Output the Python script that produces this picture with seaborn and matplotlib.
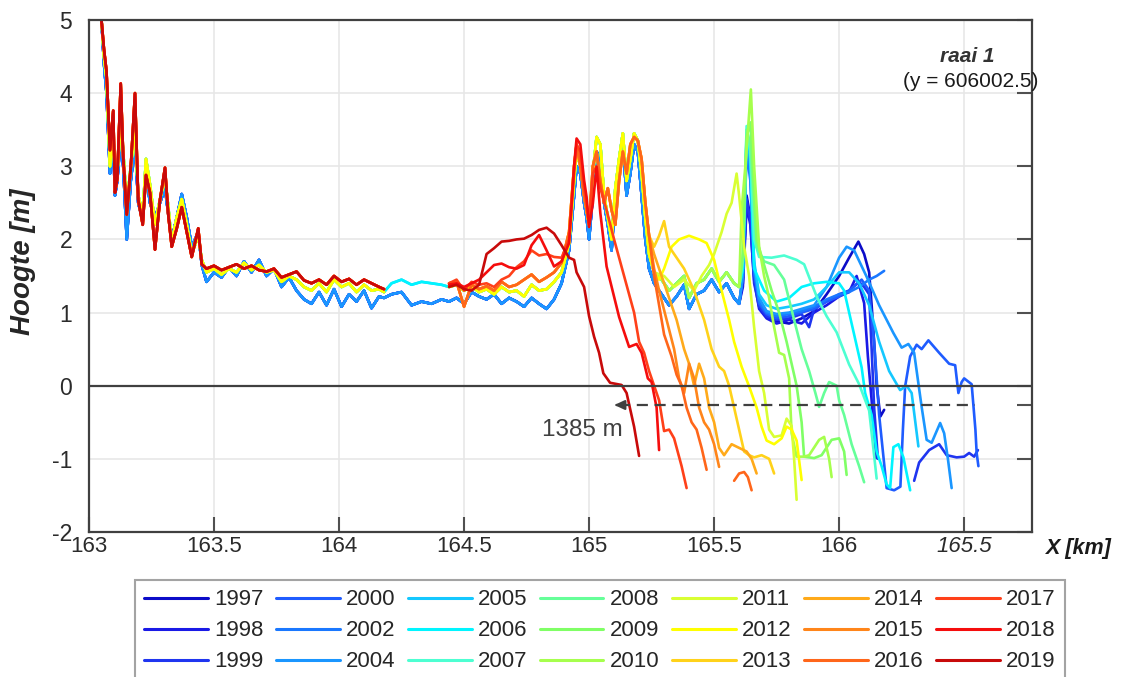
import matplotlib
matplotlib.use("Agg")
import matplotlib.pyplot as plt
import pandas as pd
import seaborn as sns
from matplotlib.lines import Line2D

# ---------------- data ----------------
years = ["1997", "1998", "1999", "2000", "2002", "2004", "2005", "2006", "2007",
         "2008", "2009", "2010", "2011", "2012", "2013", "2014", "2015", "2016",
         "2017", "2018", "2019"]

x_ticks = [163, 163.5, 164, 164.5, 165, 165.5, 166, 166.5]
x_tick_labels = ["163", "163.5", "164", "164.5", "165", "165.5", "166", "165.5"]
y_ticks = [-2, -1, 0, 1, 2, 3, 4, 5]

# western beach / dune foot (shared survey stretch)
x_west = [163.05, 163.06, 163.07, 163.084, 163.097, 163.104, 163.113, 163.127, 163.137, 163.151,
          163.167, 163.184, 163.197, 163.215, 163.228, 163.244, 163.264, 163.284, 163.304, 163.317,
          163.331, 163.351, 163.371, 163.391, 163.411, 163.437, 163.451, 163.47, 163.50, 163.53,
          163.56, 163.59, 163.62, 163.65, 163.68, 163.71, 163.74, 163.77, 163.80, 163.83,
          163.86, 163.89, 163.92, 163.95, 163.98, 164.01, 164.04, 164.07, 164.10, 164.13,
          164.16, 164.18]
z_west_early = [5.00, 4.40, 4.00, 2.90, 3.30, 2.60, 2.80, 3.40, 3.00, 2.00,
                2.80, 3.30, 2.50, 2.25, 2.90, 2.50, 2.30, 2.50, 2.70, 2.35,
                2.00, 2.30, 2.62, 2.30, 1.90, 2.10, 1.65, 1.42, 1.55, 1.48,
                1.62, 1.50, 1.70, 1.55, 1.72, 1.50, 1.60, 1.35, 1.48, 1.30,
                1.18, 1.12, 1.28, 1.10, 1.32, 1.08, 1.25, 1.15, 1.30, 1.06,
                1.22, 1.20]
z_west_mid = [5.00, 4.50, 4.20, 3.00, 3.50, 2.75, 2.90, 3.60, 3.20, 2.45,
              3.00, 3.50, 2.60, 2.35, 3.10, 2.75, 2.20, 2.55, 2.85, 2.45,
              1.95, 2.30, 2.55, 2.20, 1.80, 2.05, 1.72, 1.55, 1.60, 1.52,
              1.60, 1.55, 1.68, 1.58, 1.65, 1.55, 1.58, 1.42, 1.50, 1.45,
              1.35, 1.30, 1.40, 1.28, 1.45, 1.35, 1.40, 1.28, 1.38, 1.30,
              1.32, 1.28]
z_west_late = [5.00, 4.60, 4.30, 3.22, 3.76, 2.64, 2.83, 4.13, 3.12, 2.34,
               2.98, 4.00, 2.54, 2.20, 2.88, 2.64, 1.86, 2.54, 2.98, 2.34,
               1.90, 2.15, 2.44, 2.10, 1.76, 2.15, 1.66, 1.60, 1.64, 1.58,
               1.62, 1.66, 1.60, 1.64, 1.58, 1.56, 1.60, 1.48, 1.52, 1.56,
               1.44, 1.40, 1.45, 1.38, 1.50, 1.42, 1.46, 1.38, 1.45, 1.40,
               1.35, 1.32]

# stretch only measured in the early years
x_gap = [164.21, 164.25, 164.29, 164.33, 164.37, 164.41]
z_gap_early = [1.25, 1.28, 1.10, 1.15, 1.12, 1.18]
z_gap_cyan = [1.40, 1.45, 1.38, 1.42, 1.40, 1.38]

# back-dune plain
x_bar = [164.44, 164.47, 164.50, 164.53, 164.56, 164.59, 164.62, 164.65, 164.68, 164.71,
         164.74, 164.77, 164.80, 164.83, 164.86, 164.89, 164.92]
z_bar_early = [1.15, 1.20, 1.12, 1.28, 1.22, 1.18, 1.25, 1.12, 1.20, 1.15, 1.08, 1.20, 1.12, 1.05, 1.18, 1.40, 1.85]
z_bar_mid = [1.35, 1.38, 1.30, 1.36, 1.28, 1.32, 1.25, 1.35, 1.28, 1.30, 1.22, 1.38, 1.30, 1.32, 1.42, 1.55, 1.95]
z_bar_late = [1.40, 1.42, 1.08, 1.38, 1.32, 1.36, 1.30, 1.42, 1.35, 1.38, 1.45, 1.52, 1.42, 1.48, 1.55, 1.68, 2.10]
z_bar_2017 = [1.40, 1.45, 1.30, 1.42, 1.38, 1.40, 1.35, 1.45, 1.50, 1.62, 1.70, 1.85, 1.78, 1.80, 1.76, 1.75, 2.00]
z_bar_2018 = [1.38, 1.40, 1.35, 1.40, 1.45, 1.55, 1.65, 1.67, 1.62, 1.60, 1.65, 1.92, 2.06, 1.85, 1.63, 1.70, 1.95]
z_bar_2019 = [1.35, 1.38, 1.32, 1.30, 1.38, 1.80, 1.88, 1.97, 1.98, 2.00, 2.01, 2.06, 2.13, 2.16, 2.08, 1.92, 1.75]

# fore dune
x_dune = [164.94, 164.95, 164.965, 164.98, 164.99, 165.00, 165.015, 165.03, 165.045, 165.06, 165.075,
          165.09, 165.105, 165.12, 165.135, 165.15, 165.165, 165.18, 165.195, 165.21, 165.225, 165.24]
z_dune_early = [2.60, 3.00, 2.90, 2.50, 2.30, 2.00, 2.60, 3.20, 3.10, 2.50, 2.20,
                1.85, 2.60, 3.00, 3.30, 2.60, 2.90, 3.30, 3.20, 2.60, 2.00, 1.60]
z_dune_mid = [2.80, 3.20, 3.00, 2.70, 2.40, 2.20, 2.90, 3.40, 3.30, 2.60, 2.30,
              2.00, 2.70, 3.10, 3.45, 2.80, 3.10, 3.45, 3.35, 2.90, 2.30, 1.80]
z_dune_late = [3.00, 3.30, 3.00, 2.60, 2.40, 2.20, 3.00, 3.20, 2.80, 2.50, 2.70,
               2.40, 2.20, 2.80, 3.20, 2.90, 3.30, 3.40, 3.35, 3.10, 2.50, 2.05]

# plain behind the old beach
x_band = [165.26, 165.29, 165.32, 165.35, 165.38, 165.40, 165.43, 165.46, 165.49, 165.52, 165.55, 165.58, 165.60]
z_band_early = [1.40, 1.25, 1.10, 1.22, 1.38, 1.05, 1.25, 1.30, 1.45, 1.28, 1.40, 1.20, 1.12]
z_band_mid = [1.55, 1.45, 1.30, 1.40, 1.50, 1.20, 1.40, 1.45, 1.60, 1.42, 1.55, 1.40, 1.35]

# year specific seaward ends
x_1997 = [165.615, 165.63, 165.645, 165.66, 165.68, 165.71, 165.75, 165.80, 165.85, 165.90, 165.95,
          166.00, 166.04, 166.077, 166.10, 166.12, 166.13, 166.14, 166.15, 166.165, 166.18]
z_1997 = [1.40, 2.60, 2.30, 1.50, 1.10, 0.95, 0.88, 0.85, 0.92, 1.02, 1.25,
          1.50, 1.75, 1.97, 1.80, 1.55, 1.10, 0.60, 0.00, -0.42, -0.33]
x_1998 = [165.615, 165.63, 165.645, 165.66, 165.68, 165.71, 165.75, 165.80, 165.85, 165.90, 165.95,
          166.00, 166.04, 166.07, 166.10, 166.115, 166.13, 166.148]
z_1998 = [1.35, 2.45, 2.20, 1.45, 1.05, 0.92, 0.85, 0.90, 0.85, 1.00, 1.10,
          1.22, 1.28, 1.50, 1.13, 0.40, -0.20, -0.99]
x_1999 = [165.615, 165.63, 165.645, 165.66, 165.68, 165.71, 165.75, 165.80, 165.85, 165.88, 165.90,
          165.95, 166.00, 166.04, 166.08, 166.10, 166.12, 166.13, 166.14, 166.155]
z_1999 = [1.45, 2.55, 2.25, 1.40, 1.08, 0.95, 0.90, 0.92, 0.98, 0.80, 1.05,
          1.15, 1.25, 1.30, 1.42, 1.35, 1.25, 0.50, -0.30, -1.00]
x_1999b = [166.30, 166.32, 166.36, 166.40, 166.43, 166.47, 166.50, 166.52, 166.54, 166.555]
z_1999b = [-1.30, -1.05, -0.88, -0.80, -0.95, -0.98, -0.97, -0.92, -0.97, -0.88]
x_2000 = [165.615, 165.63, 165.645, 165.66, 165.68, 165.71, 165.75, 165.80, 165.85, 165.90, 165.95,
          166.00, 166.04, 166.09, 166.12, 166.14, 166.16, 166.19, 166.22, 166.245, 166.255, 166.264,
          166.284, 166.31, 166.33, 166.357, 166.40, 166.44, 166.464, 166.477, 166.49, 166.50, 166.53,
          166.545, 166.55, 166.557]
z_2000 = [1.50, 3.30, 2.90, 1.60, 1.12, 0.98, 0.92, 0.95, 1.00, 1.05, 1.15,
          1.22, 1.30, 1.45, 1.30, 0.60, -0.40, -1.40, -1.43, -1.38, -0.60, -0.01,
          0.40, 0.56, 0.50, 0.62, 0.45, 0.30, 0.28, -0.10, 0.05, 0.10, 0.02,
          -0.60, -0.92, -1.10]
x_2002 = [165.615, 165.63, 165.645, 165.66, 165.68, 165.71, 165.75, 165.80, 165.85, 165.90, 165.95,
          166.00, 166.04, 166.08, 166.12, 166.15, 166.18]
z_2002 = [1.50, 3.20, 2.80, 1.55, 1.15, 1.00, 0.95, 0.98, 1.02, 1.08, 1.18,
          1.25, 1.28, 1.35, 1.45, 1.50, 1.57]
x_2004 = [165.615, 165.63, 165.645, 165.66, 165.68, 165.71, 165.75, 165.80, 165.85, 165.90, 165.95,
          166.00, 166.03, 166.06, 166.11, 166.16, 166.217, 166.25, 166.277, 166.30, 166.31, 166.33,
          166.35, 166.37, 166.404, 166.42, 166.435, 166.45]
z_2004 = [1.50, 3.35, 3.00, 1.65, 1.20, 1.02, 0.98, 1.00, 1.05, 1.10, 1.35,
          1.75, 1.90, 1.85, 1.49, 1.10, 0.72, 0.52, 0.57, 0.45, 0.20, -0.29,
          -0.74, -0.78, -0.51, -0.65, -1.00, -1.40]
x_2005 = [165.615, 165.63, 165.645, 165.66, 165.68, 165.71, 165.75, 165.80, 165.85, 165.90, 165.95,
          166.00, 166.04, 166.08, 166.12, 166.16, 166.20, 166.244, 166.27, 166.29, 166.317]
z_2005 = [1.60, 3.40, 3.10, 1.70, 1.25, 1.10, 1.05, 1.08, 1.12, 1.18, 1.35,
          1.55, 1.55, 1.40, 1.10, 0.60, 0.20, -0.06, 0.00, -0.10, -0.83]
x_2006 = [165.615, 165.63, 165.645, 165.66, 165.70, 165.75, 165.80, 165.85, 165.90, 165.95, 166.00,
          166.02, 166.06, 166.09, 166.104, 166.13, 166.15, 166.17, 166.19, 166.204, 166.217, 166.237,
          166.257, 166.284]
z_2006 = [1.60, 3.45, 3.20, 1.60, 1.30, 1.15, 1.20, 1.35, 1.40, 1.42, 1.40,
          1.30, 0.70, 0.25, -0.10, -0.40, -0.90, -1.10, -1.35, -1.40, -0.84, -0.80,
          -0.98, -1.43]
x_2007 = [165.615, 165.63, 165.645, 165.66, 165.68, 165.73, 165.78, 165.83, 165.86, 165.91, 165.95,
          165.99, 166.04, 166.08, 166.12, 166.135, 166.15]
z_2007 = [1.70, 3.55, 3.20, 2.00, 1.76, 1.75, 1.78, 1.72, 1.66, 1.22, 0.95,
          0.73, 0.29, 0.02, -0.34, -0.80, -1.27]
x_2008 = [165.615, 165.63, 165.645, 165.67, 165.70, 165.74, 165.78, 165.82, 165.85, 165.88,
          165.905, 165.92, 165.94, 165.96, 165.99, 166.00, 166.02, 166.05, 166.08, 166.10]
z_2008 = [1.75, 3.50, 3.30, 1.90, 1.70, 1.65, 1.45, 0.90, 0.50, 0.20,
          -0.10, -0.29, -0.10, 0.05, 0.00, -0.20, -0.40, -0.80, -1.10, -1.32]
x_2009 = [165.615, 165.63, 165.645, 165.67, 165.70, 165.73, 165.76, 165.79, 165.81, 165.83,
          165.85, 165.86, 165.90, 165.93, 165.97, 166.00, 166.02, 166.03]
z_2009 = [1.80, 3.40, 3.60, 2.00, 1.65, 1.30, 1.00, 0.60, 0.30, 0.00,
          -0.50, -0.97, -0.99, -0.95, -0.74, -0.72, -0.90, -1.22]
x_2010 = [165.61, 165.625, 165.647, 165.66, 165.68, 165.70, 165.72, 165.74, 165.76, 165.78,
          165.80, 165.81, 165.83, 165.86, 165.88, 165.92, 165.94, 165.96, 165.97]
z_2010 = [2.40, 3.00, 4.05, 3.00, 1.90, 1.50, 1.20, 0.80, 0.45, 0.42,
          0.10, -0.65, -0.97, -0.97, -0.95, -0.74, -0.70, -1.00, -1.25]
x_2011 = [165.26, 165.30, 165.34, 165.38, 165.42, 165.45, 165.48, 165.50, 165.53, 165.55,
          165.57, 165.59, 165.60, 165.62, 165.64, 165.66, 165.68, 165.70, 165.72, 165.74,
          165.77, 165.79, 165.81, 165.82, 165.83]
z_2011 = [1.55, 1.50, 1.35, 1.45, 1.30, 1.50, 1.65, 1.80, 2.10, 2.35,
          2.50, 2.90, 2.60, 1.90, 1.50, 0.80, 0.20, -0.10, -0.60, -0.70,
          -0.68, -0.45, -0.55, -1.00, -1.56]
x_2012 = [165.26, 165.28, 165.30, 165.33, 165.36, 165.40, 165.44, 165.47, 165.50, 165.53,
          165.56, 165.58, 165.61, 165.64, 165.67, 165.69, 165.71, 165.74, 165.77, 165.79,
          165.81, 165.83, 165.85]
z_2012 = [1.55, 1.45, 1.60, 1.90, 2.00, 2.05, 2.00, 1.95, 1.72, 1.30,
          0.90, 0.60, 0.26, -0.01, -0.30, -0.56, -0.75, -0.80, -0.72, -0.56,
          -0.60, -0.75, -1.29]
x_2013 = [165.26, 165.28, 165.30, 165.32, 165.35, 165.38, 165.42, 165.46, 165.49, 165.52,
          165.54, 165.56, 165.58, 165.60, 165.62, 165.64, 165.66, 165.69, 165.72, 165.74]
z_2013 = [1.90, 2.05, 2.25, 1.90, 1.75, 1.60, 1.30, 0.90, 0.50, 0.26,
          0.20, 0.00, -0.30, -0.60, -0.90, -0.95, -0.98, -0.95, -1.00, -1.20]
x_2014 = [165.26, 165.28, 165.32, 165.35, 165.38, 165.40, 165.42, 165.44, 165.46, 165.48,
          165.50, 165.52, 165.54, 165.57, 165.60, 165.63, 165.65, 165.67]
z_2014 = [1.80, 1.60, 1.20, 0.90, 0.50, 0.30, 0.00, 0.30, 0.10, -0.30,
          -0.50, -0.85, -0.95, -0.80, -0.85, -0.90, -1.00, -1.20]
x_2015 = [165.26, 165.28, 165.31, 165.34, 165.36, 165.38, 165.40, 165.42, 165.44, 165.46,
          165.48, 165.50, 165.52]
z_2015 = [1.60, 1.30, 0.90, 0.50, 0.10, -0.10, 0.30, 0.10, -0.30, -0.50,
          -0.60, -0.80, -1.11]
x_2016 = [165.26, 165.28, 165.30, 165.33, 165.35, 165.37, 165.39, 165.41, 165.43, 165.45, 165.47]
z_2016 = [1.50, 1.10, 0.70, 0.40, 0.15, 0.00, -0.30, -0.50, -0.60, -0.85, -1.15]
x_2016b = [165.58, 165.60, 165.62, 165.635, 165.65]
z_2016b = [-1.30, -1.20, -1.18, -1.25, -1.43]
x_2017 = [164.94, 164.95, 164.965, 164.98, 164.99, 165.00, 165.015, 165.03, 165.045, 165.07,
          165.10, 165.14, 165.18, 165.20, 165.22, 165.24, 165.26, 165.28, 165.30, 165.32,
          165.34, 165.37, 165.39]
z_2017 = [2.90, 3.30, 3.20, 2.70, 2.50, 2.20, 2.90, 3.00, 2.70, 2.40,
          2.00, 1.50, 1.00, 0.60, 0.45, 0.20, 0.00, -0.20, -0.62, -0.60,
          -0.72, -1.10, -1.40]
x_2018 = [164.94, 164.95, 164.965, 164.98, 164.99, 165.00, 165.015, 165.03, 165.045, 165.07,
          165.12, 165.16, 165.19, 165.21, 165.235, 165.25, 165.27, 165.28]
z_2018 = [3.00, 3.38, 3.30, 2.81, 2.58, 2.17, 2.49, 2.99, 2.36, 1.63,
          0.94, 0.53, 0.57, 0.45, 0.10, 0.05, -0.30, -0.88]
x_2019 = [164.94, 164.95, 164.98, 165.00, 165.02, 165.04, 165.057, 165.084, 165.13, 165.15, 165.18, 165.20]
z_2019 = [1.72, 1.55, 1.35, 0.95, 0.67, 0.45, 0.17, 0.04, 0.01, -0.10, -0.56, -0.96]

# shoreline retreat annotation
arrow_y = -0.264
arrow_from = 166.545
arrow_to = 165.09
arrow_text = "1385 m"

colors = ["#0c0cc8", "#1a1ae6", "#1f35f0", "#1f5cff", "#1a78ff", "#1a96ff", "#14c8ff",
          "#00f5ff", "#4dffd2", "#66ff99", "#80ff66", "#a6ff4d", "#d9ff33", "#ffff00",
          "#ffd21a", "#ffaa1a", "#ff851a", "#ff661a", "#ff4019", "#f50d0d", "#c80a0a"]

# ---------------- assemble ----------------
W_E = (x_west, z_west_early); W_M = (x_west, z_west_mid); W_L = (x_west, z_west_late)
G_E = (x_gap, z_gap_early); G_C = (x_gap, z_gap_cyan)
B_E = (x_bar, z_bar_early); B_M = (x_bar, z_bar_mid); B_L = (x_bar, z_bar_late)
D_E = (x_dune, z_dune_early); D_M = (x_dune, z_dune_mid); D_L = (x_dune, z_dune_late)
E_E = (x_band, z_band_early); E_M = (x_band, z_band_mid)

profiles = {
    "1997": [[W_E, G_E, B_E, D_E, E_E, (x_1997, z_1997)]],
    "1998": [[W_E, G_E, B_E, D_E, E_E, (x_1998, z_1998)]],
    "1999": [[W_E, G_E, B_E, D_E, E_E, (x_1999, z_1999)], [(x_1999b, z_1999b)]],
    "2000": [[W_E, G_E, B_E, D_E, E_E, (x_2000, z_2000)]],
    "2002": [[W_E, G_E, B_E, D_E, E_E, (x_2002, z_2002)]],
    "2004": [[W_E, G_E, B_E, D_E, E_E, (x_2004, z_2004)]],
    "2005": [[W_M, G_C, B_M, D_M, E_M, (x_2005, z_2005)]],
    "2006": [[W_M, G_C, B_M, D_M, E_M, (x_2006, z_2006)]],
    "2007": [[W_M], [B_M, D_M, E_M, (x_2007, z_2007)]],
    "2008": [[W_M], [B_M, D_M, E_M, (x_2008, z_2008)]],
    "2009": [[W_M], [B_M, D_M, E_M, (x_2009, z_2009)]],
    "2010": [[W_M], [B_M, D_M, E_M, (x_2010, z_2010)]],
    "2011": [[W_M], [B_M, D_M, (x_2011, z_2011)]],
    "2012": [[W_M], [B_M, D_M, (x_2012, z_2012)]],
    "2013": [[W_L], [B_L, D_L, (x_2013, z_2013)]],
    "2014": [[W_L], [B_L, D_L, (x_2014, z_2014)]],
    "2015": [[W_L], [B_L, D_L, (x_2015, z_2015)]],
    "2016": [[W_L], [B_L, D_L, (x_2016, z_2016)], [(x_2016b, z_2016b)]],
    "2017": [[W_L], [(x_bar, z_bar_2017), (x_2017, z_2017)]],
    "2018": [[W_L], [(x_bar, z_bar_2018), (x_2018, z_2018)]],
    "2019": [[W_L], [(x_bar, z_bar_2019), (x_2019, z_2019)]],
}

rows = []
for yr in years:
    for k, parts in enumerate(profiles[yr]):
        for xs, zs in parts:
            for xv, zv in zip(xs, zs):
                rows.append({"year": yr, "unit": f"{yr}_{k}", "x": xv, "z": zv})
df = pd.DataFrame(rows)

# ---------------- plot ----------------
sns.set_style("white")
plt.rcParams["font.family"] = ["Liberation Sans", "DejaVu Sans"]
plt.rcParams["axes.unicode_minus"] = False

fig = plt.figure(figsize=(11.35, 6.77), dpi=100)
ax = fig.add_axes([0.0784, 0.2142, 0.8310, 0.7563])

palette = dict(zip(years, colors))
sns.lineplot(data=df, x="x", y="z", hue="year", units="unit", estimator=None,
             sort=False, hue_order=years, palette=palette, linewidth=1.9,
             legend=False, ax=ax)

ax.axhline(0, color="#404040", lw=1.6, zorder=5)
ax.plot([arrow_to + 0.03, arrow_from], [arrow_y, arrow_y], ls=(0, (5, 3)),
        color="#404040", lw=1.6, zorder=6)
ax.annotate("", xy=(arrow_to, arrow_y), xytext=(arrow_to + 0.04, arrow_y),
            arrowprops=dict(arrowstyle="-|>,head_length=0.6,head_width=0.28",
                            color="#404040", lw=1.6), zorder=6)
ax.text(164.975, -0.60, arrow_text, fontsize=17.5, color="#404040", ha="center", va="center")

ax.set_xlim(163, 166.772)
ax.set_ylim(-2, 5)
ax.set_xticks(x_ticks)
ax.set_xticklabels(x_tick_labels)
ax.get_xticklabels()[-1].set_style("italic")
ax.set_yticks(y_ticks)
ax.set_yticks([arrow_y], minor=True)
ax.grid(True, which="major", color="#e6e6e6", lw=1.1)
ax.set_axisbelow(True)
ax.set_xlabel("")
ax.set_ylabel("")

ax.tick_params(axis="x", which="major", direction="in", length=11, width=1.5,
               color="#505050", bottom=True, top=False, labelsize=16,
               labelcolor="#2b2b2b", pad=3)
ax.tick_params(axis="y", which="both", direction="in", length=11, width=1.5,
               color="#505050", left=False, right=True, labelleft=True,
               labelright=False, labelsize=16.5, labelcolor="#2b2b2b", pad=12)
for sp in ax.spines.values():
    sp.set_color("#404040")
    sp.set_linewidth(1.6)

fig.text(0.020, 1 - 262 / 677, "Hoogte [m]", rotation=90, fontsize=20,
         fontweight="bold", fontstyle="italic", color="#262626", ha="center", va="center")
ax.text(1.049, -0.033, "X [km]", transform=ax.transAxes, fontsize=15.5,
        fontweight="bold", fontstyle="italic", color="#1a1a1a", ha="center", va="center")
ax.text(0.931, 0.928, "raai 1", transform=ax.transAxes, fontsize=15,
        fontweight="bold", fontstyle="italic", color="#333333", ha="center", va="center")
ax.text(0.935, 0.879, "(y = 606002.5)", transform=ax.transAxes, fontsize=15,
        color="#1a1a1a", ha="center", va="center")

handles = [Line2D([0], [0], color=c, lw=2.2) for c in colors]
leg = fig.legend(handles, years, ncol=7, loc="upper center",
                 bbox_to_anchor=(0.5286, 1 - 580 / 677), frameon=True, fancybox=False,
                 fontsize=16, handlelength=2.85, handletextpad=0.28, columnspacing=0.58,
                 labelspacing=0.45, borderpad=0.42, borderaxespad=0.0)
leg.get_frame().set_edgecolor("#8c8c8c")
leg.get_frame().set_linewidth(1.5)

fig.savefig("out.png", dpi=100)
